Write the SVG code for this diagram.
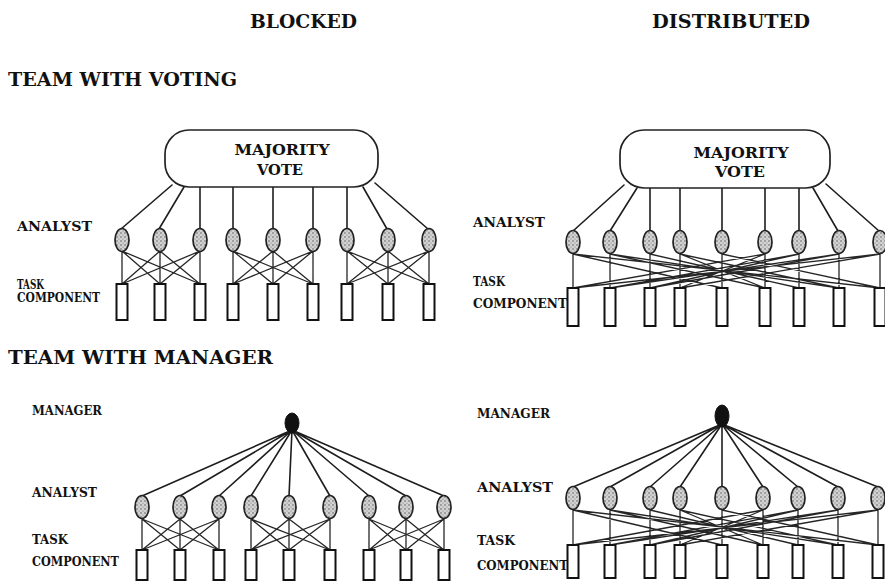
<svg xmlns="http://www.w3.org/2000/svg" width="885" height="582" viewBox="0 0 885 582">
  <style>
    .head { font-family: "DejaVu Serif", "Liberation Serif", serif; font-weight: bold; font-size: 19px; fill: #111; }
    .row { font-family: "DejaVu Serif", "Liberation Serif", serif; font-weight: bold; font-size: 12px; fill: #111; }
    .vote-text { font-family: "DejaVu Serif", "Liberation Serif", serif; font-weight: bold; font-size: 14px; fill: #111; text-anchor: middle; }
    .vote { fill: #fff; stroke: #222; stroke-width: 1.7; }
    .analyst { fill: url(#stipple); stroke: #222; stroke-width: 1.7; }
    .manager { fill: #111; stroke: #111; stroke-width: 1; }
    .task { fill: #fff; stroke: #111; stroke-width: 2; }
    .link { fill: none; stroke: #1e1e1e; stroke-width: 1.6; stroke-linecap: round; }
    .cross { fill: none; stroke: #262626; stroke-width: 1.3; }
  </style>
  <defs>
    <pattern id="stipple" width="4" height="4" patternUnits="userSpaceOnUse">
      <rect width="4" height="4" fill="#d2d2d2"/>
      <circle cx="1" cy="1" r="0.7" fill="#444"/>
      <circle cx="3" cy="3" r="0.5" fill="#666"/>
    </pattern>
  </defs>
  <rect width="885" height="582" fill="#fff"/>

  <!-- column and section headings -->
  <g id="headings">
    <text class="head" x="250" y="28" textLength="107" lengthAdjust="spacingAndGlyphs">BLOCKED</text>
    <text class="head" x="652" y="28" textLength="158" lengthAdjust="spacingAndGlyphs">DISTRIBUTED</text>
    <text class="head" x="8" y="86" textLength="229" lengthAdjust="spacingAndGlyphs">TEAM WITH VOTING</text>
    <text class="head" x="8" y="364" textLength="265" lengthAdjust="spacingAndGlyphs">TEAM WITH  MANAGER</text>
  </g>

  <!-- row labels -->
  <g id="row-labels">
    <text class="row" x="17" y="231" textLength="75" lengthAdjust="spacingAndGlyphs">ANALYST</text>
    <text class="row" x="17" y="289" textLength="27" lengthAdjust="spacingAndGlyphs">TASK</text>
    <text class="row" x="17" y="302" textLength="83" lengthAdjust="spacingAndGlyphs">COMPONENT</text>

    <text class="row" x="473" y="227" textLength="72" lengthAdjust="spacingAndGlyphs">ANALYST</text>
    <text class="row" x="473" y="286" textLength="32" lengthAdjust="spacingAndGlyphs">TASK</text>
    <text class="row" x="473" y="308" textLength="94" lengthAdjust="spacingAndGlyphs">COMPONENT</text>

    <text class="row" x="32" y="415" textLength="70" lengthAdjust="spacingAndGlyphs">MANAGER</text>
    <text class="row" x="32" y="497" textLength="65" lengthAdjust="spacingAndGlyphs">ANALYST</text>
    <text class="row" x="32" y="544" textLength="36" lengthAdjust="spacingAndGlyphs">TASK</text>
    <text class="row" x="32" y="566" textLength="87" lengthAdjust="spacingAndGlyphs">COMPONENT</text>

    <text class="row" x="477" y="418" textLength="73" lengthAdjust="spacingAndGlyphs">MANAGER</text>
    <text class="row" x="477" y="492" textLength="76" lengthAdjust="spacingAndGlyphs">ANALYST</text>
    <text class="row" x="477" y="545" textLength="38" lengthAdjust="spacingAndGlyphs">TASK</text>
    <text class="row" x="477" y="570" textLength="91" lengthAdjust="spacingAndGlyphs">COMPONENT</text>
  </g>

  <!-- connectors -->
  <g id="connectors">
    <!-- voting, blocked: vote box to analysts -->
    <path class="link" d="M172,185 L121,229 M184,187 L159,229 M200,186 L200,228 M233,187 L233,228 M273,187 L273,228 M313,187 L313,228 M347,187 L347,228 M363,187 L387,229 M375,183 L428,229"/>
    <!-- voting, blocked: analysts to tasks, three blocks -->
    <path class="cross" d="M122,251 L122,284 M122,251 L160,284 M122,251 L200,284 M160,251 L122,284 M160,251 L160,284 M160,251 L200,284 M200,251 L122,284 M200,251 L160,284 M200,251 L200,284"/>
    <path class="cross" d="M233,251 L233,284 M233,251 L273,284 M233,251 L313,284 M273,251 L233,284 M273,251 L273,284 M273,251 L313,284 M313,251 L233,284 M313,251 L273,284 M313,251 L313,284"/>
    <path class="cross" d="M347,251 L347,284 M347,251 L388,284 M347,251 L429,284 M388,251 L347,284 M388,251 L388,284 M388,251 L429,284 M429,251 L347,284 M429,251 L388,284 M429,251 L429,284"/>

    <!-- voting, distributed: vote box to analysts -->
    <path class="link" d="M624,185 L573,231 M637,188 L610,231 M650,183 L650,231 M680,188 L680,231 M722,188 L722,231 M765,188 L765,231 M799,188 L799,231 M813,188 L838,231 M826,184 L879,231"/>
    <!-- voting, distributed: analysts to tasks -->
    <path class="cross" d="M573,254 L573,288 M573,254 L880,288 M573,254 L722,288 M610,254 L610,288 M610,254 L839,288 M610,254 L765,288 M650,254 L650,288 M650,254 L799,288 M680,254 L680,288 M680,254 L765,288 M680,254 L839,288 M722,254 L722,288 M722,254 L880,288 M765,254 L765,288 M765,254 L680,288 M765,254 L573,288 M799,254 L799,288 M799,254 L650,288 M799,254 L610,288 M839,254 L839,288 M839,254 L610,288 M839,254 L650,288 M880,254 L880,288 M880,254 L573,288 M880,254 L680,288"/>

    <!-- manager, blocked: manager to analysts -->
    <path class="link" d="M292,430 L142,496 M292,430 L180,496 M292,430 L219,496 M292,430 L251,496 M292,430 L289,496 M292,430 L330,496 M292,430 L369,496 M292,430 L406,496 M292,430 L444,496"/>
    <!-- manager, blocked: analysts to tasks, three blocks -->
    <path class="cross" d="M142,519 L142,550 M142,519 L180,550 M142,519 L219,550 M180,519 L142,550 M180,519 L180,550 M180,519 L219,550 M219,519 L142,550 M219,519 L180,550 M219,519 L219,550"/>
    <path class="cross" d="M251,519 L251,550 M251,519 L289,550 M251,519 L330,550 M289,519 L251,550 M289,519 L289,550 M289,519 L330,550 M330,519 L251,550 M330,519 L289,550 M330,519 L330,550"/>
    <path class="cross" d="M369,519 L369,550 M369,519 L406,550 M369,519 L444,550 M406,519 L369,550 M406,519 L406,550 M406,519 L444,550 M444,519 L369,550 M444,519 L406,550 M444,519 L444,550"/>

    <!-- manager, distributed: manager to analysts -->
    <path class="link" d="M722,424 L573,487 M722,424 L610,487 M722,424 L650,487 M722,424 L680,487 M722,424 L722,487 M722,424 L763,487 M722,424 L798,487 M722,424 L838,487 M722,424 L878,487"/>
    <!-- manager, distributed: analysts to tasks -->
    <path class="cross" d="M573,510 L573,545 M573,510 L878,545 M573,510 L722,545 M610,510 L610,545 M610,510 L838,545 M610,510 L763,545 M650,510 L650,545 M650,510 L798,545 M680,510 L680,545 M680,510 L763,545 M680,510 L838,545 M722,510 L722,545 M722,510 L878,545 M763,510 L763,545 M763,510 L680,545 M763,510 L573,545 M798,510 L798,545 M798,510 L650,545 M798,510 L610,545 M838,510 L838,545 M838,510 L610,545 M838,510 L650,545 M878,510 L878,545 M878,510 L573,545 M878,510 L680,545"/>
  </g>

  <!-- voting, blocked -->
  <g id="vote-blocked">
    <rect class="vote" x="165" y="130" width="213" height="57" rx="24"/>
    <text class="vote-text" x="282" y="155" textLength="95" lengthAdjust="spacingAndGlyphs">MAJORITY</text>
    <text class="vote-text" x="280" y="175" textLength="46" lengthAdjust="spacingAndGlyphs">VOTE</text>
  </g>
  <g id="analysts-vote-blocked">
    <ellipse class="analyst" cx="122" cy="240" rx="7" ry="11.5"/>
    <ellipse class="analyst" cx="160" cy="240" rx="7" ry="11.5"/>
    <ellipse class="analyst" cx="200" cy="240" rx="7" ry="11.5"/>
    <ellipse class="analyst" cx="233" cy="240" rx="7" ry="11.5"/>
    <ellipse class="analyst" cx="273" cy="240" rx="7" ry="11.5"/>
    <ellipse class="analyst" cx="313" cy="240" rx="7" ry="11.5"/>
    <ellipse class="analyst" cx="347" cy="240" rx="7" ry="11.5"/>
    <ellipse class="analyst" cx="388" cy="240" rx="7" ry="11.5"/>
    <ellipse class="analyst" cx="429" cy="240" rx="7" ry="11.5"/>
  </g>
  <g id="tasks-vote-blocked">
    <rect class="task" x="116.5" y="284" width="11" height="36"/>
    <rect class="task" x="154.5" y="284" width="11" height="36"/>
    <rect class="task" x="194.5" y="284" width="11" height="36"/>
    <rect class="task" x="227.5" y="284" width="11" height="36"/>
    <rect class="task" x="267.5" y="284" width="11" height="36"/>
    <rect class="task" x="307.5" y="284" width="11" height="36"/>
    <rect class="task" x="341.5" y="284" width="11" height="36"/>
    <rect class="task" x="382.5" y="284" width="11" height="36"/>
    <rect class="task" x="423.5" y="284" width="11" height="36"/>
  </g>

  <!-- voting, distributed -->
  <g id="vote-distributed">
    <rect class="vote" x="620" y="130" width="210" height="58" rx="24"/>
    <text class="vote-text" x="741" y="158" textLength="95" lengthAdjust="spacingAndGlyphs">MAJORITY</text>
    <text class="vote-text" x="740" y="177" textLength="50" lengthAdjust="spacingAndGlyphs">VOTE</text>
  </g>
  <g id="analysts-vote-distributed">
    <ellipse class="analyst" cx="573" cy="242" rx="7" ry="11.5"/>
    <ellipse class="analyst" cx="610" cy="242" rx="7" ry="11.5"/>
    <ellipse class="analyst" cx="650" cy="242" rx="7" ry="11.5"/>
    <ellipse class="analyst" cx="680" cy="242" rx="7" ry="11.5"/>
    <ellipse class="analyst" cx="722" cy="242" rx="7" ry="11.5"/>
    <ellipse class="analyst" cx="765" cy="242" rx="7" ry="11.5"/>
    <ellipse class="analyst" cx="799" cy="242" rx="7" ry="11.5"/>
    <ellipse class="analyst" cx="839" cy="242" rx="7" ry="11.5"/>
    <ellipse class="analyst" cx="880" cy="242" rx="7" ry="11.5"/>
  </g>
  <g id="tasks-vote-distributed">
    <rect class="task" x="567.5" y="288" width="11" height="38"/>
    <rect class="task" x="604.5" y="288" width="11" height="38"/>
    <rect class="task" x="644.5" y="288" width="11" height="38"/>
    <rect class="task" x="674.5" y="288" width="11" height="38"/>
    <rect class="task" x="716.5" y="288" width="11" height="38"/>
    <rect class="task" x="759.5" y="288" width="11" height="38"/>
    <rect class="task" x="793.5" y="288" width="11" height="38"/>
    <rect class="task" x="833.5" y="288" width="11" height="38"/>
    <rect class="task" x="874.5" y="288" width="11" height="38"/>
  </g>

  <!-- manager, blocked -->
  <g id="manager-blocked">
    <ellipse class="manager" cx="292" cy="423" rx="7" ry="10"/>
  </g>
  <g id="analysts-manager-blocked">
    <ellipse class="analyst" cx="142" cy="507" rx="7" ry="11.5"/>
    <ellipse class="analyst" cx="180" cy="507" rx="7" ry="11.5"/>
    <ellipse class="analyst" cx="219" cy="507" rx="7" ry="11.5"/>
    <ellipse class="analyst" cx="251" cy="507" rx="7" ry="11.5"/>
    <ellipse class="analyst" cx="289" cy="507" rx="7" ry="11.5"/>
    <ellipse class="analyst" cx="330" cy="507" rx="7" ry="11.5"/>
    <ellipse class="analyst" cx="369" cy="507" rx="7" ry="11.5"/>
    <ellipse class="analyst" cx="406" cy="507" rx="7" ry="11.5"/>
    <ellipse class="analyst" cx="444" cy="507" rx="7" ry="11.5"/>
  </g>
  <g id="tasks-manager-blocked">
    <rect class="task" x="136.5" y="550" width="11" height="30"/>
    <rect class="task" x="174.5" y="550" width="11" height="30"/>
    <rect class="task" x="213.5" y="550" width="11" height="30"/>
    <rect class="task" x="245.5" y="550" width="11" height="30"/>
    <rect class="task" x="283.5" y="550" width="11" height="30"/>
    <rect class="task" x="324.5" y="550" width="11" height="30"/>
    <rect class="task" x="363.5" y="550" width="11" height="30"/>
    <rect class="task" x="400.5" y="550" width="11" height="30"/>
    <rect class="task" x="438.5" y="550" width="11" height="30"/>
  </g>

  <!-- manager, distributed -->
  <g id="manager-distributed">
    <ellipse class="manager" cx="722" cy="416" rx="7" ry="11"/>
  </g>
  <g id="analysts-manager-distributed">
    <ellipse class="analyst" cx="573" cy="498" rx="7" ry="11.5"/>
    <ellipse class="analyst" cx="610" cy="498" rx="7" ry="11.5"/>
    <ellipse class="analyst" cx="650" cy="498" rx="7" ry="11.5"/>
    <ellipse class="analyst" cx="680" cy="498" rx="7" ry="11.5"/>
    <ellipse class="analyst" cx="722" cy="498" rx="7" ry="11.5"/>
    <ellipse class="analyst" cx="763" cy="498" rx="7" ry="11.5"/>
    <ellipse class="analyst" cx="798" cy="498" rx="7" ry="11.5"/>
    <ellipse class="analyst" cx="838" cy="498" rx="7" ry="11.5"/>
    <ellipse class="analyst" cx="878" cy="498" rx="7" ry="11.5"/>
  </g>
  <g id="tasks-manager-distributed">
    <rect class="task" x="567.5" y="545" width="11" height="33"/>
    <rect class="task" x="604.5" y="545" width="11" height="33"/>
    <rect class="task" x="644.5" y="545" width="11" height="33"/>
    <rect class="task" x="674.5" y="545" width="11" height="33"/>
    <rect class="task" x="716.5" y="545" width="11" height="33"/>
    <rect class="task" x="757.5" y="545" width="11" height="33"/>
    <rect class="task" x="792.5" y="545" width="11" height="33"/>
    <rect class="task" x="832.5" y="545" width="11" height="33"/>
    <rect class="task" x="872.5" y="545" width="11" height="33"/>
  </g>
</svg>
